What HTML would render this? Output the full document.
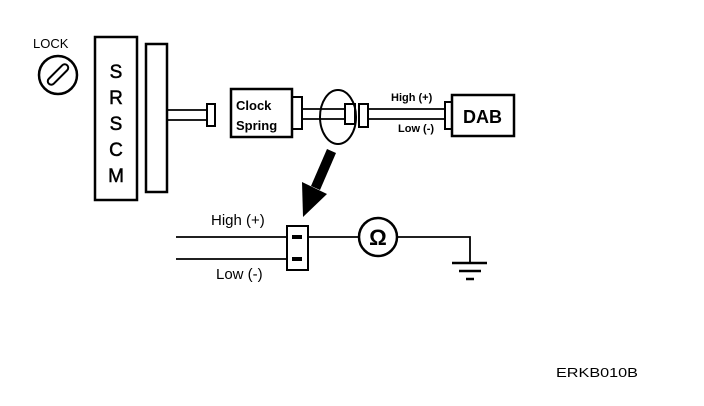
<!DOCTYPE html>
<html><head><style>
html,body{margin:0;padding:0;background:#fff;}
svg{display:block;}
text{font-family:"Liberation Sans",Arial,sans-serif;fill:#000;}
</style></head><body>
<svg width="704" height="406" viewBox="0 0 704 406" xmlns="http://www.w3.org/2000/svg">
<g fill="none" stroke="#000" stroke-width="2.5">
<!-- lock -->
<circle cx="58" cy="75" r="19"/>
<rect x="45" y="71" width="26" height="7" rx="3.5" transform="rotate(-45 58 74.5)" stroke-width="2"/>
<!-- SRSCM -->
<rect x="95" y="37" width="42" height="163"/>
<rect x="146" y="44" width="21" height="148"/>
<line x1="167" y1="110" x2="208" y2="110" stroke-width="1.8"/>
<line x1="167" y1="120" x2="208" y2="120" stroke-width="1.8"/>
<rect x="207" y="104" width="8" height="22" stroke-width="2"/>
<!-- clock spring -->
<rect x="231" y="89" width="61" height="48"/>
<path d="M292 97 H302 V129 H292" stroke-width="2"/>
<line x1="302" y1="109" x2="345" y2="109" stroke-width="1.8"/>
<line x1="302" y1="119" x2="345" y2="119" stroke-width="1.8"/>
<ellipse cx="338" cy="117" rx="18" ry="27" stroke-width="2"/>
<rect x="345" y="104" width="10" height="20" stroke-width="2"/>
<rect x="359" y="104" width="9" height="23" stroke-width="2"/>
<line x1="368" y1="109" x2="446" y2="109" stroke-width="1.8"/>
<line x1="368" y1="119" x2="446" y2="119" stroke-width="1.8"/>
<rect x="445" y="102" width="7" height="27" stroke-width="2"/>
<rect x="452" y="95" width="62" height="41"/>
<!-- bottom -->
<line x1="176" y1="237" x2="287" y2="237" stroke-width="1.8"/>
<line x1="176" y1="259" x2="287" y2="259" stroke-width="1.8"/>
<rect x="287" y="226" width="21" height="44" stroke-width="2"/>
<line x1="308" y1="237" x2="359" y2="237" stroke-width="1.8"/>
<circle cx="378" cy="237" r="19"/>
<path d="M397 237 H470 V262" stroke-width="1.8"/>
<line x1="452" y1="263" x2="487" y2="263" stroke-width="2.5"/>
<line x1="459" y1="271" x2="481" y2="271" stroke-width="2.5"/>
<line x1="466" y1="279" x2="474" y2="279" stroke-width="2.5"/>
</g>
<g fill="#000">
<rect x="292" y="235" width="10" height="4"/>
<rect x="292" y="257" width="10" height="4"/>
<polygon points="327,149 336,153 320,190 311,186"/>
<polygon points="302,182 327,194 303,217"/>
</g>
<text x="33" y="48" font-size="13">LOCK</text>
<g font-size="19" text-anchor="middle" stroke="#000" stroke-width="0.5">
<text x="116" y="78">S</text>
<text x="116" y="104">R</text>
<text x="116" y="130">S</text>
<text x="116" y="156">C</text>
<text x="116" y="182">M</text>
</g>
<text x="236" y="110" font-size="13" font-weight="bold">Clock</text>
<text x="236" y="130" font-size="13" font-weight="bold">Spring</text>
<text x="391" y="101" font-size="11" font-weight="bold">High (+)</text>
<text x="398" y="132" font-size="11" font-weight="bold">Low (-)</text>
<text x="463" y="123" font-size="18" font-weight="bold">DAB</text>
<text x="211" y="225" font-size="15">High (+)</text>
<text x="216" y="279" font-size="15">Low (-)</text>
<text x="378" y="245" font-size="22" text-anchor="middle" font-weight="bold">Ω</text>
<text x="556" y="377" font-size="13" textLength="82" lengthAdjust="spacingAndGlyphs">ERKB010B</text>
</svg>
</body></html>
